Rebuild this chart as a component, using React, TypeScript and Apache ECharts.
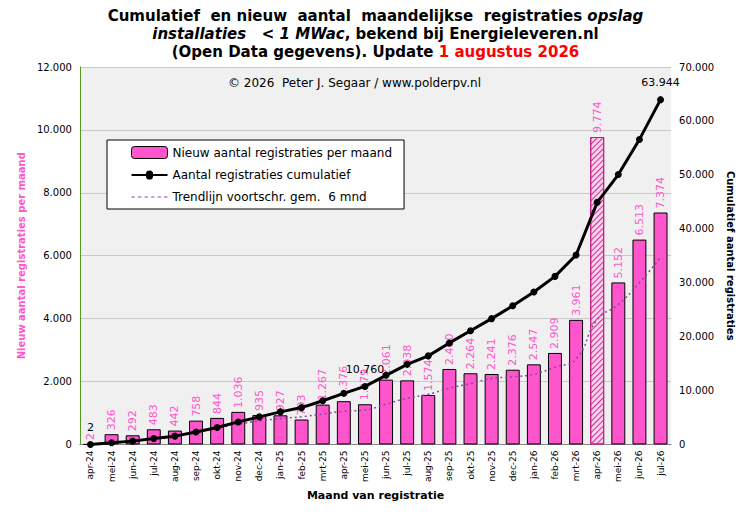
import { useEffect, useRef } from 'react';
import * as echarts from 'echarts';

const months = [
  'apr-24', 'mei-24', 'jun-24', 'jul-24', 'aug-24', 'sep-24', 'okt-24', 'nov-24', 'dec-24',
  'jan-25', 'feb-25', 'mrt-25', 'apr-25', 'mei-25', 'jun-25', 'jul-25', 'aug-25', 'sep-25',
  'okt-25', 'nov-25', 'dec-25', 'jan-26', 'feb-26', 'mrt-26', 'apr-26', 'mei-26', 'jun-26', 'jul-26',
];
const monthly = [
  2, 326, 292, 483, 442, 758, 844, 1036, 935, 927, 793, 1267, 1376, 1279, 2061, 2038, 1574, 2400,
  2264, 2241, 2376, 2547, 2909, 3961, 9774, 5152, 6513, 7374,
];
const cumulative = [
  2, 328, 620, 1103, 1545, 2303, 3147, 4183, 5118, 6045, 6838, 8105, 9481, 10760, 12821, 14859,
  16433, 18833, 21097, 23338, 25714, 28261, 31170, 35131, 44905, 50057, 56570, 63944,
];
const trend = [
  null, null, null, null, null, 384, 524, 642, 750, 824, 882, 967, 1056, 1096, 1284, 1469, 1599,
  1788, 1936, 2096, 2149, 2234, 2456, 2716, 3968, 4453, 5143, 5947,
];
const cumLabelIdx = [0, 13, 27];
const hatchedIdx = 24;

const fmt = (v: number) => String(v).replace(/\B(?=(\d{3})+(?!\d))/g, '.');
const font = 'Verdana, "DejaVu Sans", sans-serif';
const pink = '#ff55cc';

export default function App() {
  const ref = useRef<HTMLDivElement | null>(null);

  useEffect(() => {
    const el = ref.current;
    if (!el) return;
    const chart = echarts.init(el, undefined, { renderer: 'svg' });

    chart.setOption({
      animation: false,
      backgroundColor: '#fff',
      textStyle: { fontFamily: font },
      title: {
        left: 'center',
        top: -6,
        itemGap: 0,
        text: '{b|Cumulatief  en nieuw  aantal  maandelijkse  registraties }{i|opslag}\n{i|installaties   < 1 MWac}{b|, bekend bij Energieleveren.nl}\n{b|(Open Data gegevens). Update }{r|1 augustus 2026}',
        textStyle: {
          rich: {
            b: { fontSize: 15, fontWeight: 'bold', color: '#000', fontFamily: font, lineHeight: 18 },
            i: { fontSize: 15, fontWeight: 'bold', fontStyle: 'italic', color: '#000', fontFamily: font, lineHeight: 18 },
            r: { fontSize: 15, fontWeight: 'bold', color: '#ff0000', fontFamily: font, lineHeight: 18 },
          },
        },
      },
      graphic: [
        {
          type: 'text', left: 220, top: 69,
          style: { text: '© 2026  Peter J. Segaar / www.polderpv.nl', fontSize: 12, fill: '#000', fontFamily: font },
        },
      ],
      legend: {
        orient: 'vertical',
        left: 99,
        top: 132,
        padding: [6, 12, 6, 24],
        itemGap: 10,
        itemWidth: 36,
        itemHeight: 12,
        backgroundColor: '#fff',
        borderColor: '#000',
        borderWidth: 1,
        textStyle: { fontSize: 12, color: '#000', fontFamily: font },
        data: [
          { name: 'Nieuw aantal registraties per maand', itemStyle: { color: pink, borderColor: '#000', borderWidth: 1 } },
          { name: 'Aantal registraties cumulatief', icon: 'path://M0,5L16,5A4,4,0,0,1,24,5L40,5L40,7L24,7A4,4,0,0,1,16,7L0,7Z' },
          { name: 'Trendlijn voortschr. gem.  6 mnd', icon: 'path://M0,5L3,5L3,6L0,6ZM6,5L9,5L9,6L6,6ZM12,5L15,5L15,6L12,6ZM18,5L21,5L21,6L18,6ZM24,5L27,5L27,6L24,6ZM30,5L33,5L33,6L30,6Z', itemStyle: { color: '#8844aa' } },
        ],
      },
      grid: { left: 59, right: 57, top: 59, bottom: 55, backgroundColor: '#f0f0f0', show: true, borderWidth: 0 },
      xAxis: {
        type: 'category',
        data: months,
        name: 'Maand van registratie',
        nameLocation: 'middle',
        nameGap: 44,
        nameTextStyle: { fontSize: 11, fontWeight: 'bold', color: '#000' },
        axisLine: { lineStyle: { color: '#888' } },
        axisTick: { show: false },
        axisLabel: { rotate: 90, fontSize: 9, color: '#000', margin: 6, interval: 0 },
      },
      yAxis: [
        {
          type: 'value', min: 0, max: 12000, interval: 2000,
          name: 'Nieuw aantal registraties per maand',
          nameLocation: 'middle', nameGap: 46, nameRotate: 90,
          nameTextStyle: { fontSize: 10, fontWeight: 'bold', color: pink },
          axisLine: { show: true, lineStyle: { color: '#559922' } },
          axisLabel: { formatter: fmt, fontSize: 10, color: '#000' },
          splitLine: { lineStyle: { color: '#c8c8c8' } },
        },
        {
          type: 'value', min: 0, max: 70000, interval: 10000,
          name: 'Cumulatief aantal registraties',
          nameLocation: 'middle', nameGap: 52, nameRotate: -90,
          nameTextStyle: { fontSize: 10, fontWeight: 'bold', color: '#000' },
          axisLine: { show: false },
          axisLabel: { formatter: fmt, fontSize: 10, color: '#000' },
          splitLine: { show: false },
        },
      ],
      series: [
        {
          name: 'Nieuw aantal registraties per maand',
          type: 'bar',
          barWidth: '66%',
          data: monthly.map((v, i) =>
            i === hatchedIdx
              ? {
                  value: v,
                  itemStyle: {
                    color: '#f8d0ec',
                    borderColor: '#c02080',
                    decal: { symbol: 'rect', color: '#d03090', dashArrayX: [1, 0], dashArrayY: [1, 3], rotation: -Math.PI / 4 },
                  },
                }
              : v,
          ),
          itemStyle: { color: pink, borderColor: '#000', borderWidth: 1 },
          label: {
            show: true, position: 'top', rotate: 90, align: 'left', verticalAlign: 'middle', distance: 4,
            fontSize: 11, color: pink, formatter: (p: any) => fmt(p.value),
          },
        },
        {
          name: 'Aantal registraties cumulatief',
          type: 'line',
          yAxisIndex: 1,
          data: cumulative.map((v, i) =>
            cumLabelIdx.includes(i)
              ? { value: v, label: { show: true, position: 'top', distance: 8, fontSize: 11, color: '#000', formatter: (p: any) => fmt(p.value) } }
              : v,
          ),
          symbol: 'circle',
          symbolSize: 7,
          itemStyle: { color: '#000' },
          lineStyle: { color: '#000', width: 3 },
          z: 5,
        },
        {
          name: 'Trendlijn voortschr. gem.  6 mnd',
          type: 'line',
          data: trend,
          symbol: 'none',
          smooth: true,
          lineStyle: { color: '#8844aa', width: 1.5, type: [2, 3] },
          itemStyle: { color: '#8844aa' },
          z: 4,
        },
      ],
    });

    return () => chart.dispose();
  }, []);

  return <div ref={ref} style={{ width: 735, height: 498 }} />;
}
